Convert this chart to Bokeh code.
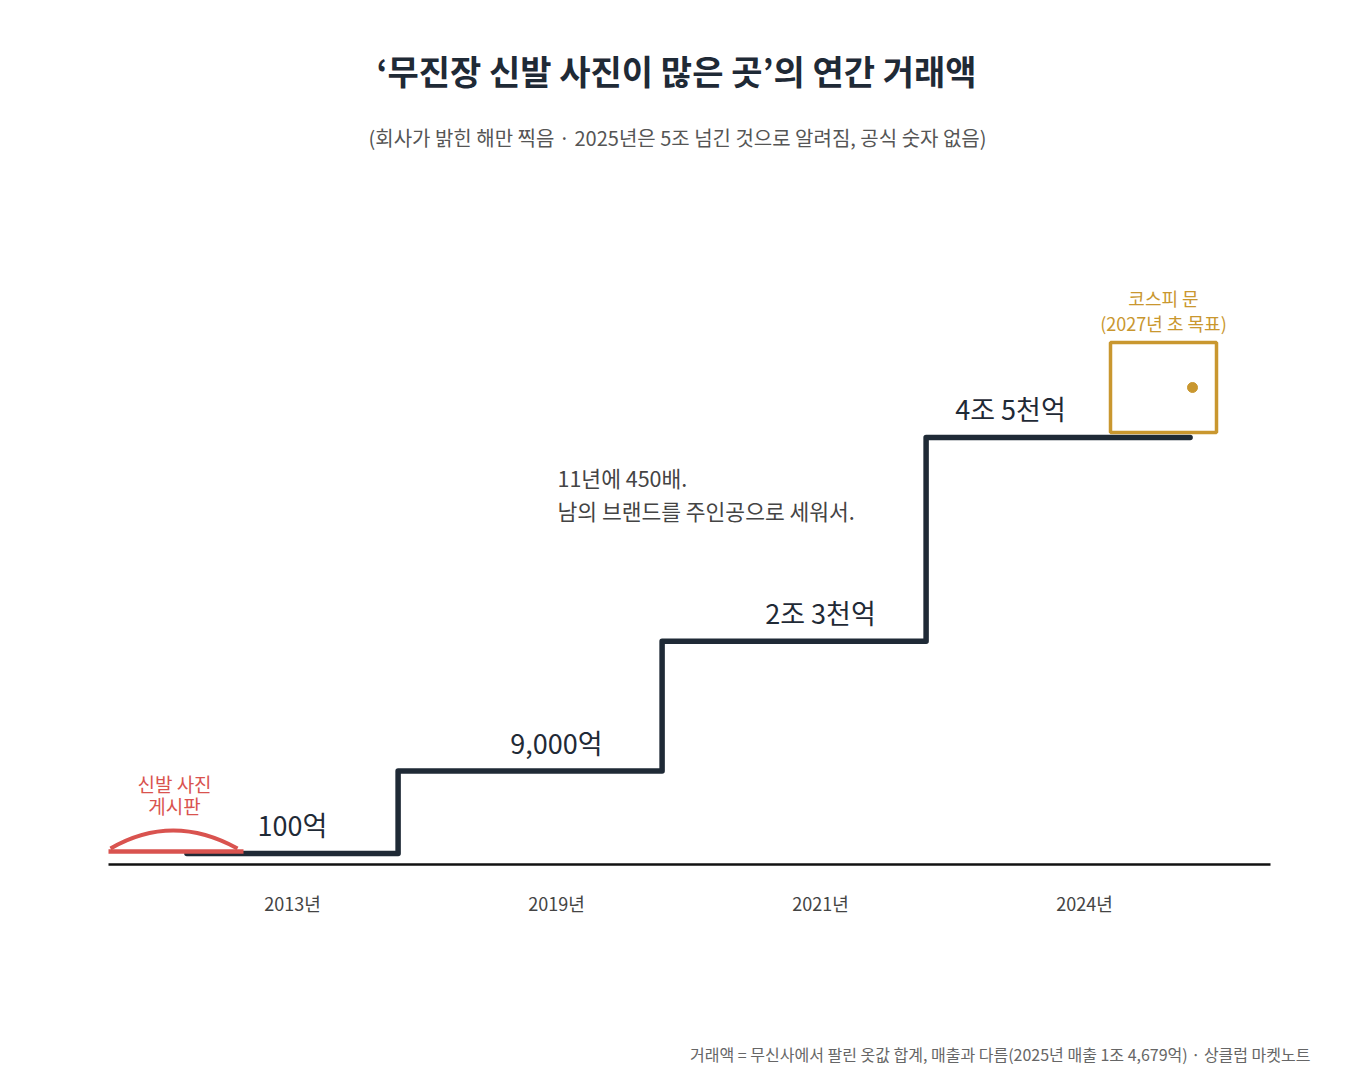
from bokeh.plotting import figure
from bokeh.models import Range1d, ColumnDataSource
from bokeh.core.properties import value
from bokeh.embed import file_html
from bokeh.resources import INLINE

# ---- data ----
years = ["2013년", "2019년", "2021년", "2024년"]
gmv = [100, 9000, 23000, 45000]          # 거래액, 억 원
gmv_labels = ["100억", "9,000억", "2조 3천억", "4조 5천억"]

title_text = "‘무진장 신발 사진이 많은 곳’의 연간 거래액"
subtitle_text = "(회사가 밝힌 해만 찍음 · 2025년은 5조 넘긴 것으로 알려짐, 공식 숫자 없음)"
footer_text = "거래액 = 무신사에서 팔린 옷값 합계, 매출과 다름(2025년 매출 1조 4,679억) · 상클럽 마켓노트"
note_lines = ["11년에 450배.", "남의 브랜드를 주인공으로 세워서."]
board_lines = ["신발 사진", "게시판"]
door_lines = ["코스피 문", "(2027년 초 목표)"]

# ---- layout ----
W, H = 1334, 1072
ORG = 0
FONT = value("Noto Sans CJK KR")
DARK = "#1f2a36"
RED = "#d9534f"
GOLD = "#c9972f"
GRAY = "#555555"

X0, KX = 292, 264            # page px of first category, px per category
Y0, KY = 854, 417 / 45000    # page px of zero, px per unit


def px(xp):
    return (xp - X0) / KX


def py(yp):
    return (Y0 - yp) / KY


p = figure(width=W, height=H, output_backend="svg", toolbar_location=None,
           x_range=Range1d((ORG - X0) / KX, (ORG + W - X0) / KX),
           y_range=Range1d((Y0 - ORG - H) / KY, (Y0 - ORG) / KY),
           x_axis_type=None, y_axis_type=None, min_border=0)
p.grid.visible = False
p.outline_line_color = None
p.background_fill_color = "white"
p.border_fill_color = "white"

idx = list(range(len(years)))

# baseline
p.line([px(108), px(1270)], [py(864), py(864)], line_color="#111111", line_width=2.5)

# staircase
xs, ys = [], []
for i, v in enumerate(gmv):
    left = i - 0.6 if i > 0 else i - 0.4
    right = i + 0.4
    xs += [left, right]
    ys += [v, v]
p.line(xs, ys, line_color=DARK, line_width=5.5, line_join="round", line_cap="round")

# shoe-photo board (pre-2013)
p.line([px(108), px(243)], [py(851), py(851)], line_color=RED, line_width=4.5)
p.quadratic(x0=px(110), y0=py(848), x1=px(237), y1=py(848), cx=px(172), cy=py(812),
            line_color=RED, line_width=4)
p.text(x=[px(174)] * 2, y=[py(783), py(805)], text=board_lines, text_font=FONT,
       text_font_size="19px", text_color=RED, text_align="center", text_baseline="middle")

# door (KOSPI)
p.quad(left=px(1110), right=px(1216), top=py(342), bottom=py(432), fill_color=None,
       line_color=GOLD, line_width=3.5)
p.scatter(x=[px(1192)], y=[py(387)], size=10, color=GOLD)
p.text(x=[px(1163)] * 2, y=[py(297), py(322)], text=door_lines, text_font=FONT,
       text_font_size="18px", text_color=GOLD, text_align="center", text_baseline="middle")

# value labels
src = ColumnDataSource(dict(x=idx, y=gmv, t=gmv_labels, dx=[0, 0, 0, -74]))
p.text(x="x", y="y", text="t", source=src, x_offset="dx", y_offset=-29, text_font=FONT,
       text_font_size="27px", text_color=DARK, text_align="center", text_baseline="middle")

# category labels
p.text(x=idx, y=[py(902)] * len(idx), text=years, text_font=FONT, text_font_size="18px",
       text_color="#444444", text_align="center", text_baseline="middle")

# note
p.text(x=[px(557)] * 2, y=[py(477), py(510)], text=note_lines, text_font=FONT,
       text_font_size="21.5px", text_color="#444444", text_align="left", text_baseline="middle")

# title / subtitle / footer
p.text(x=[px(676)], y=[py(70)], text=[title_text], text_font=FONT, text_font_size="34px",
       text_font_style="bold", text_color=DARK, text_align="center", text_baseline="middle")
p.text(x=[px(677)], y=[py(137)], text=[subtitle_text], text_font=FONT, text_font_size="20px",
       text_color=GRAY, text_align="center", text_baseline="middle")
p.text(x=[px(1310)], y=[py(1053)], text=[footer_text], text_font=FONT, text_font_size="16px",
       text_color="#666666", text_align="right", text_baseline="middle")

open("out.html", "w").write(file_html(p, INLINE))
